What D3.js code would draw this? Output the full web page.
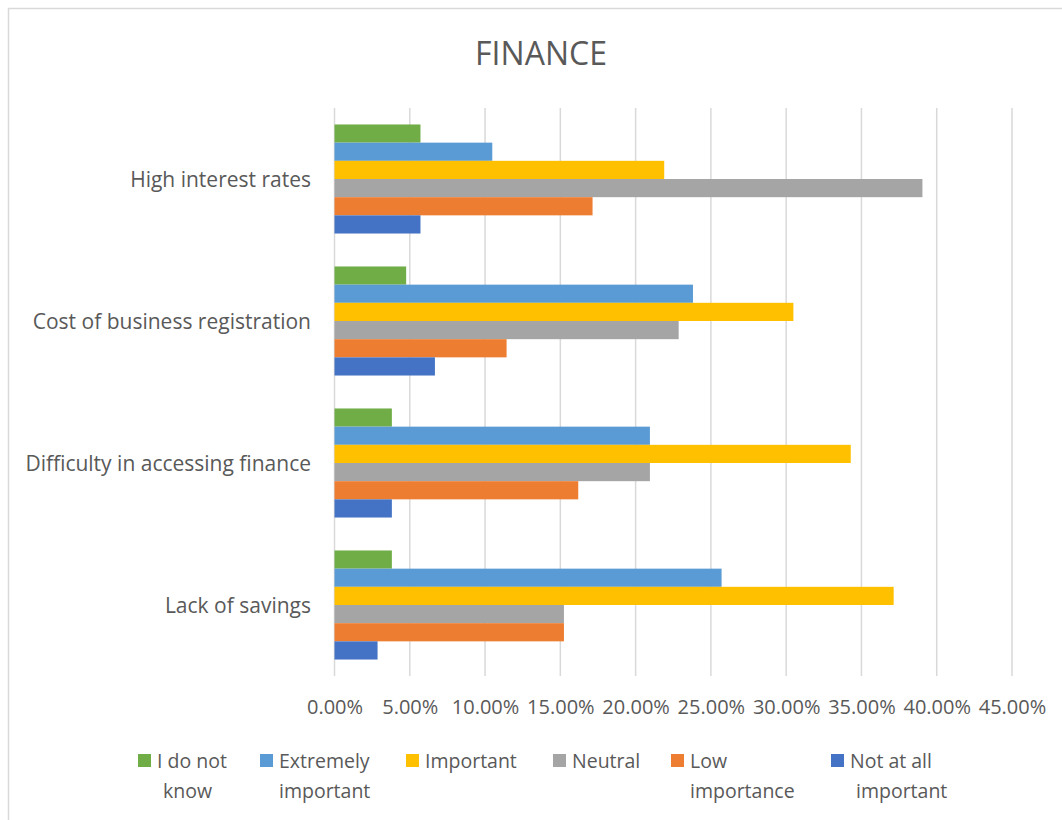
<!DOCTYPE html>
<html>
<head>
<meta charset="utf-8">
<script src="https://cdn.jsdelivr.net/npm/d3@7/dist/d3.min.js"></script>
<style>
  html, body { margin: 0; padding: 0; background: #ffffff; }
  svg { display: block; font-family: "Open Sans", "Noto Sans", sans-serif; }
</style>
</head>
<body>
<svg id="chart" width="1062" height="820"></svg>
<script>
// Survey responses (% of respondents) for finance-related obstacles
const categories = [
  "High interest rates",
  "Cost of business registration",
  "Difficulty in accessing finance",
  "Lack of savings"
];

// Series in the order they are stacked inside each group (top to bottom)
const seriesNames = [
  "I do not know",
  "Extremely important",
  "Important",
  "Neutral",
  "Low importance",
  "Not at all important"
];

const seriesColors = ["#70AD47", "#5B9BD5", "#FFC000", "#A5A5A5", "#ED7D31", "#4472C4"];

// Values per series, one entry per category (same order as categories)
const iDoNotKnow         = [5.71, 4.76, 3.81, 3.81];
const extremelyImportant = [10.48, 23.81, 20.95, 25.71];
const important          = [21.90, 30.48, 34.29, 37.14];
const neutral            = [39.05, 22.86, 20.95, 15.24];
const lowImportance      = [17.14, 11.43, 16.19, 15.24];
const notAtAllImportant  = [5.71, 6.67, 3.81, 2.86];

const tickValues = [0, 5, 10, 15, 20, 25, 30, 35, 40, 45];

// Legend labels as they wrap onto two lines
const legendLines = [
  ["I do not", "know"],
  ["Extremely", "important"],
  ["Important"],
  ["Neutral"],
  ["Low", "importance"],
  ["Not at all", "important"]
];

const seriesValues = [iDoNotKnow, extremelyImportant, important, neutral, lowImportance, notAtAllImportant];

const svg = d3.select("#chart");
const textColor = "#595959";
const gridColor = "#D9D9D9";

// Chart frame
svg.append("rect")
  .attr("x", 8.5).attr("y", 8.5)
  .attr("width", 1080).attr("height", 840)
  .attr("fill", "none")
  .attr("stroke", gridColor)
  .attr("stroke-width", 1.5);

// Title
svg.append("text")
  .attr("x", 541).attr("y", 65)
  .attr("text-anchor", "middle")
  .attr("fill", textColor)
  .attr("font-size", 32)
  .text("FINANCE");

const plot = { left: 334.5, right: 1012, top: 108, bottom: 676 };

const x = d3.scaleLinear().domain([0, 45]).range([plot.left, plot.right]);

const y = d3.scaleBand()
  .domain(categories)
  .range([plot.top, plot.bottom])
  .paddingInner(0.232)
  .paddingOuter(0.116);

const ySeries = d3.scaleBand()
  .domain(seriesNames)
  .range([0, y.bandwidth()]);

// Vertical gridlines
svg.append("g")
  .selectAll("line")
  .data(tickValues)
  .join("line")
  .attr("x1", d => x(d)).attr("x2", d => x(d))
  .attr("y1", plot.top).attr("y2", plot.bottom)
  .attr("stroke", gridColor)
  .attr("stroke-width", 1.5);

// Bars
const groups = svg.append("g")
  .selectAll("g")
  .data(categories)
  .join("g")
  .attr("transform", c => `translate(0,${y(c)})`);

groups.selectAll("rect")
  .data((c, ci) => seriesNames.map((s, si) => ({ s, si, v: seriesValues[si][ci] })))
  .join("rect")
  .attr("x", x(0))
  .attr("y", d => ySeries(d.s))
  .attr("width", d => x(d.v) - x(0))
  .attr("height", ySeries.bandwidth())
  .attr("fill", d => seriesColors[d.si]);

// X axis (labels only)
const xAxis = d3.axisBottom(x)
  .tickValues(tickValues)
  .tickSize(0)
  .tickPadding(0)
  .tickFormat(d => d.toFixed(2) + "%");

const gx = svg.append("g")
  .attr("transform", `translate(0,${plot.bottom + 38})`)
  .call(xAxis);
gx.select(".domain").remove();
gx.selectAll("text")
  .attr("dy", 0)
  .attr("fill", textColor)
  .attr("font-size", 20)
  .attr("font-family", "'Open Sans', sans-serif");

// Y axis (category labels only)
const yAxis = d3.axisLeft(y).tickSize(0).tickPadding(0);
const gy = svg.append("g")
  .attr("transform", `translate(311,0)`)
  .call(yAxis);
gy.select(".domain").remove();
gy.selectAll("text")
  .attr("dy", "0.36em")
  .attr("fill", textColor)
  .attr("font-size", 21)
  .attr("font-family", "'Open Sans', sans-serif");

// Legend
const legendX = [138, 260, 406, 553, 671, 831];
const legendIndent = [[0, 6], [0, 0], [0], [0], [0, 0], [0, 6]];
const legend = svg.append("g")
  .selectAll("g")
  .data(seriesNames)
  .join("g")
  .attr("transform", (d, i) => `translate(${legendX[i]},754)`);

legend.append("rect")
  .attr("width", 13).attr("height", 13)
  .attr("fill", (d, i) => seriesColors[i]);

legend.each(function(d, i) {
  const g = d3.select(this);
  legendLines[i].forEach((line, li) => {
    g.append("text")
      .attr("x", 19 + legendIndent[i][li])
      .attr("y", 14 + li * 30)
      .attr("fill", textColor)
      .attr("font-size", 19.5)
      .text(line);
  });
});
</script>
</body>
</html>
